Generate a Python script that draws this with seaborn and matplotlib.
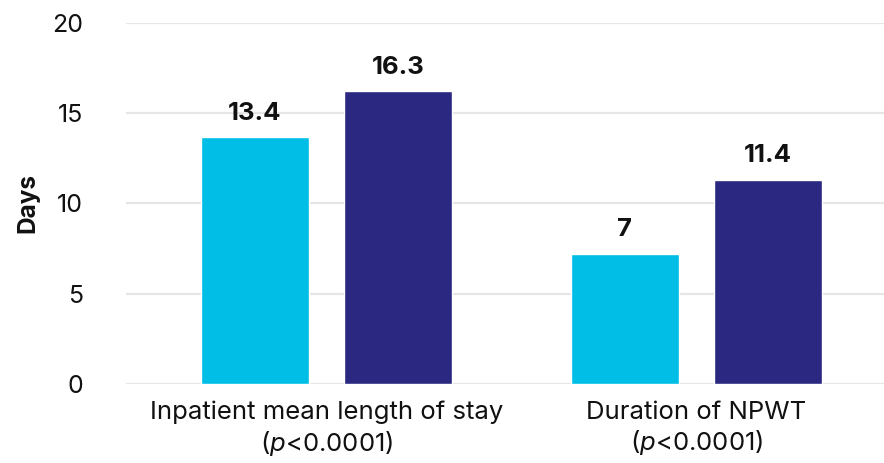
import matplotlib
matplotlib.use("Agg")
import matplotlib.pyplot as plt
import seaborn as sns
import pandas as pd

categories = ["Inpatient mean length of stay\n($p$<0.0001)", "Duration of NPWT\n($p$<0.0001)"]
series = ["Series 1", "Series 2"]
# bar heights as drawn in the picture
values_s1 = [13.65, 7.2]
values_s2 = [16.2, 11.3]
# printed value labels
labels_s1 = ["13.4", "7"]
labels_s2 = ["16.3", "11.4"]
y_ticks = [0, 5, 10, 15, 20]
colors = ["#00BEE6", "#2A2880"]

df = pd.DataFrame({
    "category": categories * 2,
    "series": [series[0]] * 2 + [series[1]] * 2,
    "value": values_s1 + values_s2,
})

FONT = "Inter"
sns.set_theme(style="white")
plt.rcParams["font.family"] = [FONT, "DejaVu Sans"]
plt.rcParams["mathtext.fontset"] = "custom"
plt.rcParams["mathtext.it"] = FONT + ":italic"
plt.rcParams["mathtext.rm"] = FONT

fig = plt.figure(figsize=(8.84, 4.63), dpi=100)
ax = fig.add_axes([126 / 884, (463 - 384) / 463, 1 - 126 / 884, (384 - 22.5) / 463])

sns.barplot(data=df, x="category", y="value", hue="series", palette=colors,
            width=0.773, gap=0.243, ax=ax, legend=False, saturation=1)

for cont, labs in zip(ax.containers, [labels_s1, labels_s2]):
    ax.bar_label(cont, labels=labs, padding=9, fontsize=18.5, fontweight="bold", color="#111111")

ax.set_ylim(0, 20)
ax.set_xlim(-0.542, 1.507)
ax.set_yticks(y_ticks)
ax.grid(axis="y", color="#E6E6E6", linewidth=1.6)
ax.set_axisbelow(True)
for s in ax.spines.values():
    s.set_visible(False)
ax.tick_params(axis="y", length=0, pad=31, labelsize=18, labelcolor="#111111")
ax.tick_params(axis="x", length=0, pad=12, labelsize=18.5, labelcolor="#111111")
ax.set_xlabel("")
ax.set_ylabel("Days", fontsize=17.5, fontweight="bold", color="#111111", labelpad=9)

fig.savefig("out.png", dpi=100)
